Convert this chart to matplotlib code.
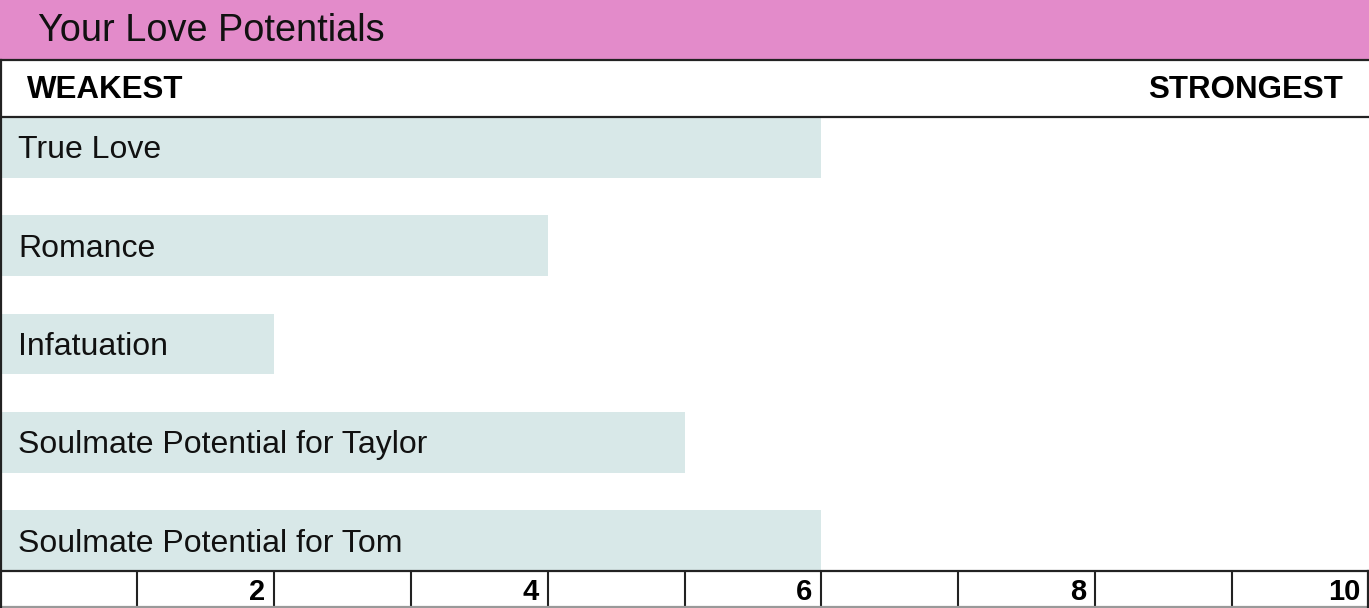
import matplotlib.pyplot as plt
from matplotlib.patches import Rectangle
from matplotlib.lines import Line2D

plt.rcParams['font.family'] = ['Liberation Sans', 'DejaVu Sans']

# data
labels = ["True Love", "Romance", "Infatuation",
          "Soulmate Potential for Taylor", "Soulmate Potential for Tom"]
values = [6, 4, 2, 5, 6]
ticks = [2, 4, 6, 8, 10]

W, H = 1369, 608
fig = plt.figure(figsize=(W / 100, H / 100), dpi=100)

def fy(py):  # pixel y (from top) -> figure fraction
    return 1 - py / H

def fx(px):
    return px / W

pink = "#e38bca"
barcol = "#d8e8e8"
dark = "#222222"

# title bar
fig.patches.append(Rectangle((0, fy(60)), 1, 60 / H, transform=fig.transFigure,
                             facecolor=pink, edgecolor="none", zorder=0))
fig.text(fx(38), fy(31), "Your Love Potentials", fontsize=27.3,
         va="center", ha="left", color="#111111")

# header row
fig.text(fx(27), fy(90), "WEAKEST", fontsize=22.5, fontweight="bold",
         va="center", ha="left")
fig.text(fx(1343), fy(90), "STRONGEST", fontsize=22.5, fontweight="bold",
         va="center", ha="right")

# bars area
ax = fig.add_axes([0, fy(571), 1, (571 - 117) / H])
y = list(range(len(labels)))
ax.barh(y, values, height=0.62, color=barcol, edgecolor="none")
for i, lab in enumerate(labels):
    ax.annotate(lab, (0, i), xytext=(18, -3), textcoords="offset pixels",
                va="center", ha="left", fontsize=23, color="#111111")
ax.set_xlim(0, 10)
ax.set_ylim(4.31, -0.31)
ax.axis("off")

# bottom scale row
ax2 = fig.add_axes([0, 0, 1, (608 - 571) / H])
ax2.set_xlim(0, 10)
ax2.set_ylim(0, 1)
ax2.axis("off")
for k in range(1, 10):
    ax2.axvline(k, color=dark, lw=1.5)
for t in ticks:
    ax2.annotate(str(t), (t, 0.5), xytext=(-9, -2), textcoords="offset pixels",
                 va="center", ha="right", fontsize=21, fontweight="bold")

# grid lines
for py, c in [(60, dark), (117, dark), (571, dark), (607, "#999999")]:
    fig.lines.append(Line2D([0, 1], [fy(py), fy(py)], transform=fig.transFigure,
                            color=c, lw=1.6))
fig.lines.append(Line2D([fx(1), fx(1)], [fy(60), 0], transform=fig.transFigure,
                        color=dark, lw=1.6))
fig.lines.append(Line2D([fx(1368), fx(1368)], [fy(571), 0], transform=fig.transFigure,
                        color=dark, lw=1.6))

fig.savefig("out.png", dpi=100)
